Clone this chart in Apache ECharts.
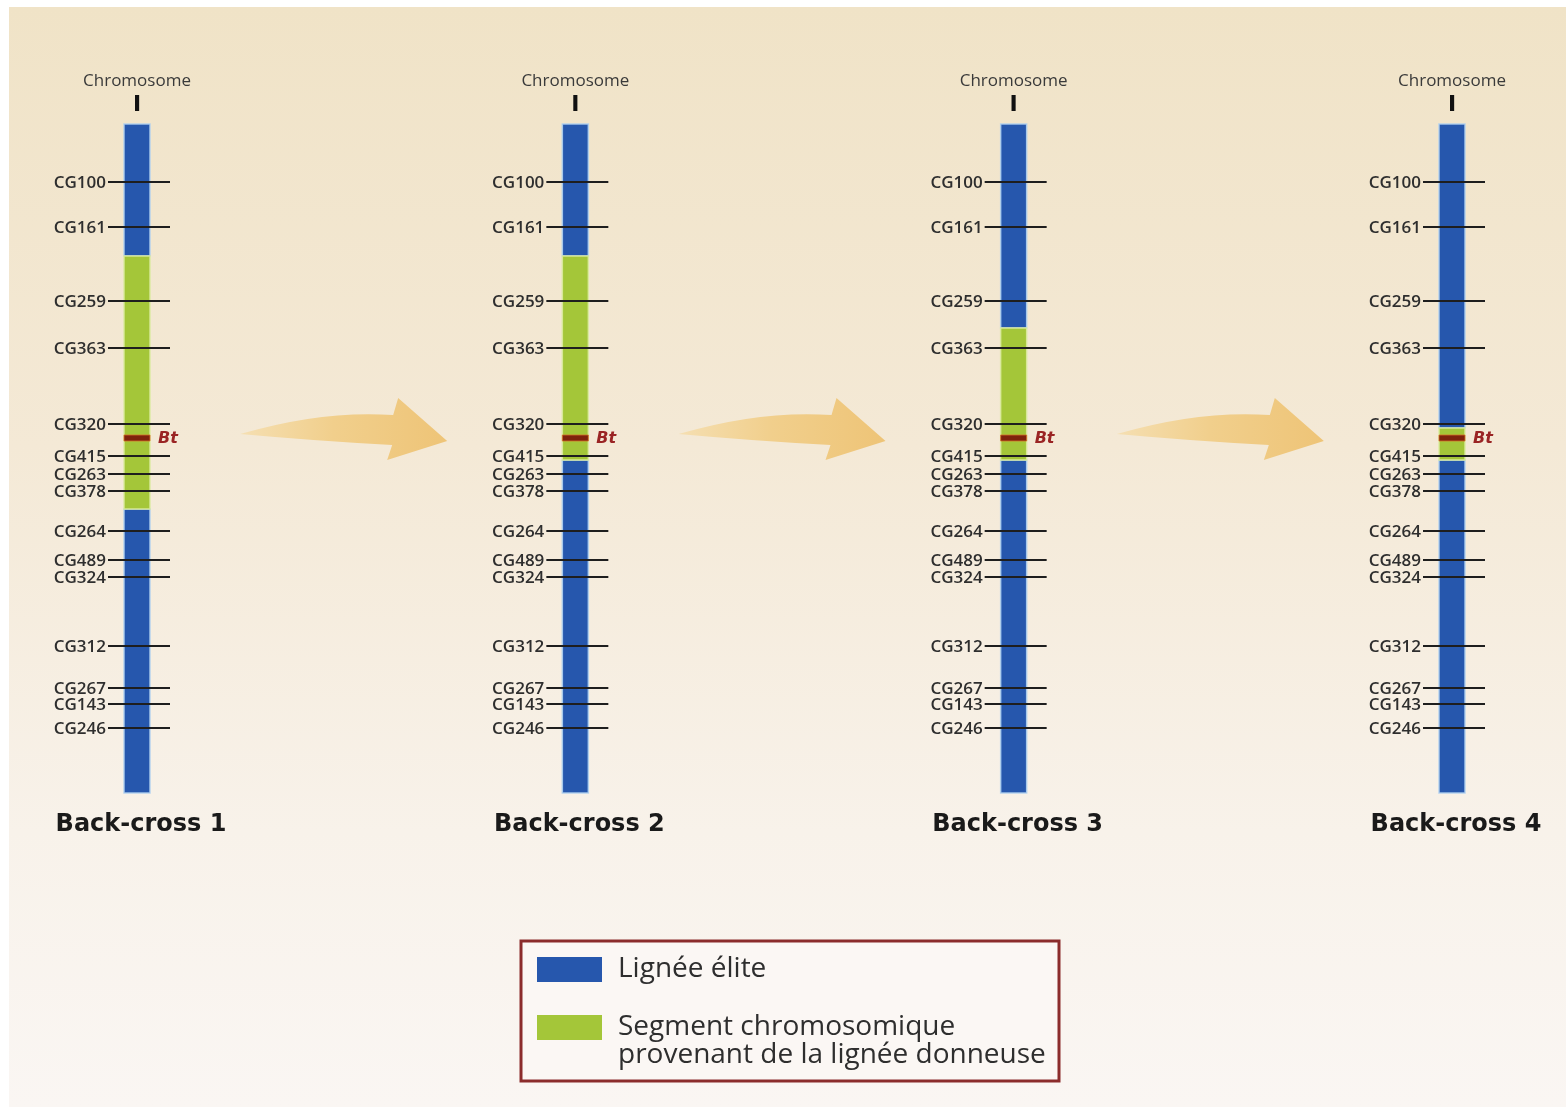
<!DOCTYPE html>
<html><head><meta charset="utf-8">
<script src="https://cdn.jsdelivr.net/npm/echarts@6/dist/echarts.min.js"></script>
<style>html,body{margin:0;padding:0;background:#fff}#c{width:1566px;height:1107px}</style>
</head><body><div id="c"></div><script>
// ---- data ----
const generations = ['Back-cross 1', 'Back-cross 2', 'Back-cross 3', 'Back-cross 4'];
const markerNames = ['CG100','CG161','CG259','CG363','CG320','CG415','CG263','CG378','CG264','CG489','CG324','CG312','CG267','CG143','CG246'];
const markerPos   = [58, 103, 177, 224, 300, 332, 350, 367, 407, 436, 453, 522, 564, 580, 604];
const btPos = 314;
const chromLength = 669;
const donorStart = [132, 132, 204, 304];
const donorEnd   = [385, 336, 336, 336];
const legendNames = ['Lignée élite', 'Segment chromosomique provenant de la lignée donneuse'];

// ---- build series data ----
const eliteData = [], donorData = [], markerData = [], btData = [], arrowData = [];
generations.forEach((g, i) => {
  eliteData.push([i, 0, donorStart[i]]);
  eliteData.push([i, donorEnd[i], chromLength]);
  donorData.push([i, donorStart[i], donorEnd[i]]);
  markerPos.forEach((p, j) => markerData.push([i, p, j]));
  btData.push([i, btPos]);
  if (i < generations.length - 1) arrowData.push([i, i + 1, btPos]);
});

function segItem(params, api) {
  const x = api.value(0);
  const p0 = api.coord([x, api.value(1)]);
  const p1 = api.coord([x, api.value(2)]);
  const blue = params.seriesIndex === 0;
  return {
    type: 'rect',
    shape: { x: p0[0] - 13, y: p0[1], width: 26, height: p1[1] - p0[1] },
    style: { fill: api.visual('color'), stroke: blue ? 'rgba(175,208,240,0.9)' : 'rgba(218,234,160,0.9)', lineWidth: 1.5 }
  };
}
function markerItem(params, api) {
  const c = api.coord([api.value(0), api.value(1)]);
  return {
    type: 'group', children: [
      { type: 'line', shape: { x1: c[0] - 29, y1: c[1], x2: c[0] + 33, y2: c[1] }, style: { stroke: '#1e1e1e', lineWidth: 2 } },
      { type: 'text', style: { text: markerNames[api.value(2)], x: c[0] - 31, y: c[1] + 1, align: 'right', verticalAlign: 'middle',
        font: '600 17px "Open Sans"', fill: '#2e2e2e' } }
    ]
  };
}
function btItem(params, api) {
  const c = api.coord([api.value(0), api.value(1)]);
  return {
    type: 'group', children: [
      { type: 'rect', shape: { x: c[0] - 13, y: c[1] - 3, width: 26, height: 6 }, style: { fill: '#7e220c', stroke: 'rgba(215,110,40,0.8)', lineWidth: 1 } },
      { type: 'text', style: { text: 'Bt', x: c[0] + 21, y: c[1] + 1, align: 'left', verticalAlign: 'middle',
        font: 'italic bold 16px "DejaVu Sans"', fill: '#9a2424' } }
    ]
  };
}
function arrowItem(params, api) {
  const a = api.coord([api.value(0), api.value(2)]);
  const b = api.coord([api.value(1), api.value(2)]);
  const tx = (a[0] + b[0]) / 2 + 91, ty = a[1] + 3;
  const p = (dx, dy) => (tx + dx) + ' ' + (ty + dy);
  const d = 'M' + p(-207, -7) + ' Q' + p(-125, -31) + ' ' + p(-54, -26) + ' L' + p(-49, -43) + ' L' + p(0, 0) +
            ' L' + p(-60, 19) + ' L' + p(-55, 4) + ' Q' + p(-130, 0) + ' ' + p(-207, -7) + ' Z';
  return {
    type: 'path', shape: { pathData: d },
    style: { fill: new echarts.graphic.LinearGradient(0, 0, 1, 0, [
      { offset: 0, color: '#f5dfb2' }, { offset: 0.45, color: '#f1cf8c' }, { offset: 1, color: '#eec477' }]) }
  };
}

const legendText = { fontFamily: 'Open Sans', fontSize: 28, color: '#2e2e2e', lineHeight: 28, padding: [0, 0, 0, 11] };
const chart = echarts.init(document.getElementById('c'));
chart.setOption({
  backgroundColor: '#ffffff',
  animation: false,
  graphic: [{
    type: 'rect', z: -10, silent: true,
    shape: { x: 9, y: 7, width: 1557, height: 1100 },
    style: { fill: new echarts.graphic.LinearGradient(0, 0, 0, 1, [
      { offset: 0, color: '#f0e3c7' }, { offset: 0.4, color: '#f4e9d6' },
      { offset: 0.75, color: '#f8f2ea' }, { offset: 1, color: '#faf6f3' }]) }
  }, {
    type: 'rect', z: 1, silent: true,
    shape: { x: 521, y: 941, width: 538, height: 140 },
    style: { fill: '#fbf7f4', stroke: '#8b2c2c', lineWidth: 3 }
  }],
  grid: { left: 137, right: 114, top: 124, height: 669 },
  xAxis: [{
    type: 'value', min: 0, max: 3, interval: 1, position: 'bottom',
    axisLine: { show: false }, axisTick: { show: false }, splitLine: { show: false },
    axisLabel: { formatter: v => generations[v], margin: 20, padding: [0, 0, 0, 8], fontFamily: 'DejaVu Sans', fontWeight: 'bold', fontSize: 24, color: '#1a1a1a' }
  }, {
    type: 'value', min: 0, max: 3, interval: 1, position: 'top',
    axisLine: { show: false }, axisTick: { show: false }, splitLine: { show: false },
    axisLabel: { formatter: () => 'Chromosome\n{r|I}', margin: 6, fontFamily: 'Open Sans', fontSize: 17, color: '#3a3a3a', lineHeight: 22,
      rich: { r: { fontFamily: 'DejaVu Sans', fontWeight: 'bold', fontSize: 22, lineHeight: 26, color: '#111' } } }
  }],
  yAxis: { type: 'value', min: 0, max: chromLength, inverse: true, show: false },
  legend: [{
    left: 537, top: 955.5, padding: 0, icon: 'rect', itemWidth: 65, itemHeight: 25,
    selectedMode: false, textStyle: legendText, data: [legendNames[0]]
  }, {
    left: 537, top: 985.5, padding: 0, icon: 'rect', itemWidth: 65, itemHeight: 25,
    selectedMode: false, textStyle: legendText, data: [legendNames[1]],
    formatter: n => '\n' + n.replace(' provenant', '\nprovenant')
  }],
  series: [
    { type: 'custom', name: legendNames[0], renderItem: segItem, data: eliteData, itemStyle: { color: '#2657ad' }, encode: { x: 0, y: [1, 2] } },
    { type: 'custom', name: legendNames[1], renderItem: segItem, data: donorData, itemStyle: { color: '#a4c639' }, encode: { x: 0, y: [1, 2] } },
    { type: 'custom', name: 'markers', renderItem: markerItem, data: markerData, encode: { x: 0, y: 1 } },
    { type: 'custom', name: 'Bt', renderItem: btItem, data: btData, encode: { x: 0, y: 1 } },
    { type: 'custom', name: 'arrows', renderItem: arrowItem, data: arrowData, encode: { x: [0, 1], y: 2 }, silent: true }
  ]
});
</script></body></html>
